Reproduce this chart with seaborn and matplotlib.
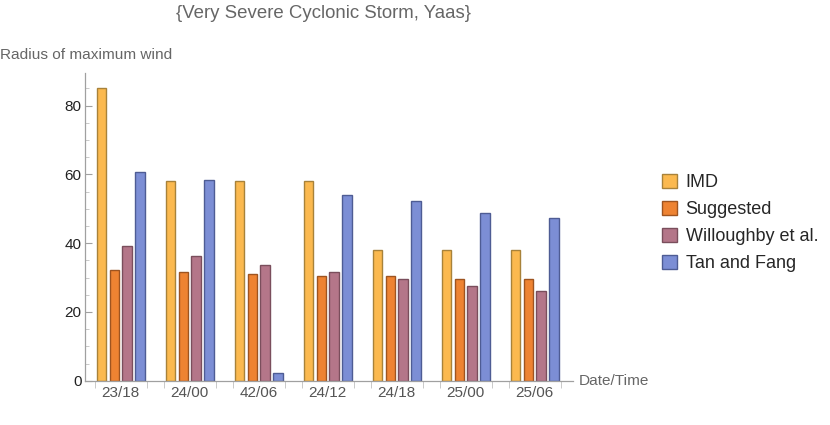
import numpy as np
import pandas as pd
import matplotlib
matplotlib.use("Agg")
import matplotlib.pyplot as plt
import seaborn as sns
from matplotlib.ticker import MultipleLocator, FixedLocator
from matplotlib.patches import Patch

# data
dates = ["23/18", "24/00", "42/06", "24/12", "24/18", "25/00", "25/06"]
imd = [85, 58, 58, 58, 38, 38, 38]
suggested = [32.2, 31.5, 31.1, 30.6, 30.4, 29.7, 29.5]
willoughby = [39.1, 36.3, 33.7, 31.7, 29.7, 27.6, 26.1]
tan_fang = [60.6, 58.3, 2.2, 54.0, 52.2, 48.8, 47.2]
methods = ["IMD", "Suggested", "Willoughby et al.", "Tan and Fang"]

colors = ["#FBB94F", "#EE8332", "#B47689", "#7C8ED5"]
edges = ["#A8823A", "#9E5420", "#7A4E5C", "#4E5C94"]

df = pd.DataFrame({
    "date": dates * 4,
    "method": np.repeat(methods, len(dates)),
    "value": imd + suggested + willoughby + tan_fang,
})

sns.set_style("white")
plt.rcParams["font.family"] = ["Liberation Sans", "DejaVu Sans"]

fig = plt.figure(figsize=(8.3, 4.25), dpi=100)
ax = fig.add_axes([0.1024, 0.1042, 0.588, 0.724])

sns.barplot(data=df, x="date", y="value", hue="method", order=dates,
            hue_order=methods, palette=colors, saturation=1, width=0.75, gap=0.25,
            linewidth=1, legend=False, ax=ax)

# darker outlines per series
for i, cont in enumerate(ax.containers):
    for bar in cont:
        bar.set_edgecolor(edges[i])

ax.set_xlim(-0.52, 6.553)
ax.set_ylim(0, 89.5)

axis_gray = "#A0A0A0"
for side in ["top", "right"]:
    ax.spines[side].set_visible(False)
for side in ["left", "bottom"]:
    ax.spines[side].set_color(axis_gray)
    ax.spines[side].set_linewidth(0.9)

# y ticks: inward, minor every 5
ax.yaxis.set_major_locator(MultipleLocator(20))
ax.yaxis.set_minor_locator(MultipleLocator(5))
ax.tick_params(axis="y", which="major", direction="in", length=5, color=axis_gray,
               labelsize=11, labelcolor="#222222", pad=2.5, left=True)
ax.tick_params(axis="y", which="minor", direction="in", length=3, color="#C0C0C0", left=True)

# x ticks: labels centred, marks at group edges
ax.set_xticks(range(len(dates)))
ax.set_xticklabels(dates)
ax.tick_params(axis="x", which="major", length=0, labelsize=11, labelcolor="#555555", pad=4)
edges_x = [c + s * 0.375 for c in range(len(dates)) for s in (-1, 1)]
ax.xaxis.set_minor_locator(FixedLocator(edges_x))
ax.tick_params(axis="x", which="minor", direction="out", length=5, color="#C0C0C0", bottom=True)

ax.set_xlabel("")
ax.set_ylabel("")

fig.text(0.39, 0.968, "{Very Severe Cyclonic Storm, Yaas}", ha="center", va="center",
         fontsize=13.4, color="#666666")
fig.text(0.0, 0.87, "Radius of maximum wind", ha="left", va="center",
         fontsize=11.1, color="#666666")
fig.text(0.697, 0.104, "Date/Time", ha="left", va="center",
         fontsize=11.1, color="#666666")

handles = [Patch(facecolor=c, edgecolor=e, label=m) for c, e, m in zip(colors, edges, methods)]
fig.legend(handles=handles, loc="upper left", bbox_to_anchor=(0.789, 0.608),
           frameon=False, fontsize=13, handlelength=0.85, handleheight=0.85,
           handletextpad=0.45, labelspacing=0.53, borderaxespad=0)

fig.savefig("out.png", dpi=100)
